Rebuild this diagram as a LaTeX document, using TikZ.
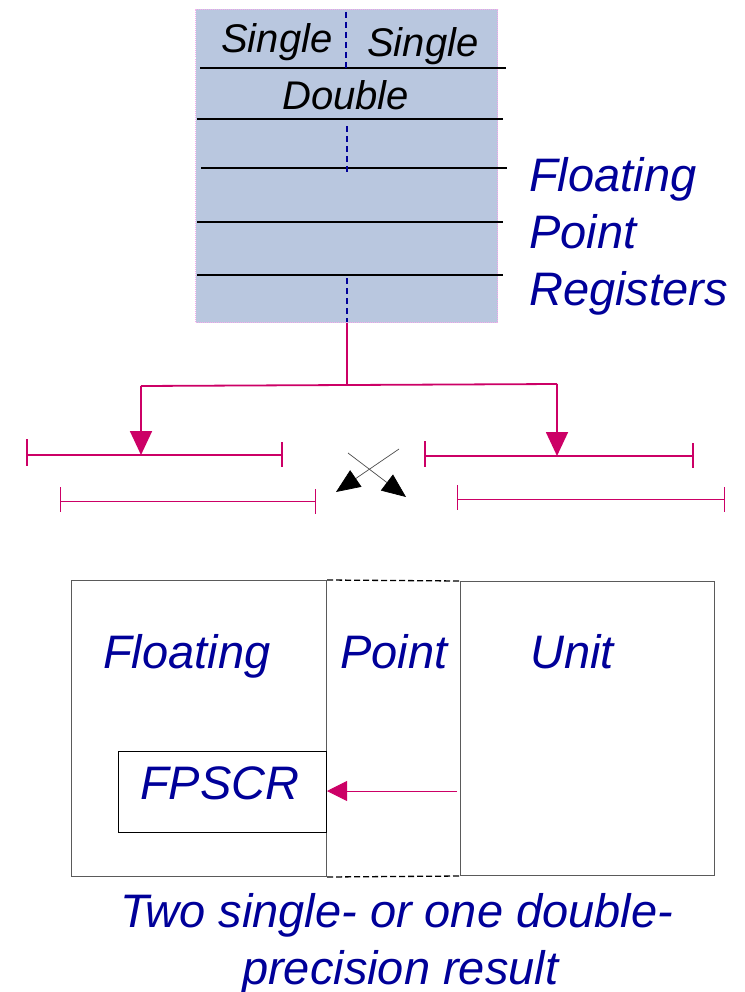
\documentclass[tikz,border=0pt]{standalone}
\usepackage{fontspec}
\setmainfont{Liberation Sans}
\usetikzlibrary{arrows.meta}
\definecolor{navy}{RGB}{0,0,153}
\definecolor{magenta}{RGB}{204,0,102}
\definecolor{regfill}{RGB}{185,199,223}
\definecolor{regedge}{RGB}{245,170,235}
\definecolor{boxedge}{RGB}{90,90,90}
\tikzset{
  bigtext/.style={font=\fontsize{47}{56}\selectfont\itshape, text=navy, inner sep=0pt, anchor=base west},
  regtext/.style={font=\fontsize{40}{48}\selectfont\itshape, text=black, inner sep=0pt, anchor=base west},
  regline/.style={line width=1.8pt, black},
  halfmark/.style={navy, line width=1.2pt, dash pattern=on 6pt off 4pt},
  feed/.style={magenta, line width=1.8pt},
  feedtip/.style={feed, -{Triangle[length=24pt, width=22pt]}},
  lane/.style={magenta, line width=2.6pt},
  lanethin/.style={magenta, line width=0.9pt},
  swap/.style={black!70, line width=0.7pt, -{Triangle[length=24pt, width=20pt, color=black, fill=black]}},
  unitbox/.style={draw=boxedge, line width=1pt},
}
\begin{document}
\begin{tikzpicture}[x=1pt, y=-1pt]
\useasboundingbox (0,0) rectangle (744,992);

% register file
\node[fill=regfill, draw=regedge, densely dotted, line width=1pt, minimum width=302pt, minimum height=313pt, inner sep=0pt, anchor=north west] (regs) at (195,9) {};
\draw[regline] (200,68) -- (506,68);
\draw[regline] (197,119) -- (503,119);
\draw[regline] (201,168) -- (507,168);
\draw[regline] (197,222) -- (503,222);
\draw[regline] (197,275) -- (503,275);
\draw[halfmark] (346,12) -- (346,68);
\draw[halfmark] (347,126) -- (347,172);
\draw[halfmark] (347,278) -- (347,322);
\node[regtext] (s1) at (221,53) {Single};
\node[regtext] (s2) at (367,57) {Single};
\node[regtext] (dbl) at (282,110) {Double};

\node[bigtext] (fl) at (529,192) {Floating};
\node[bigtext] (pt) at (529,248) {Point};
\node[bigtext] (rg) at (529,305) {Registers};

% operand fan-out
\coordinate (split) at (347,385);
\coordinate (lsplit) at (141,386);
\coordinate (rsplit) at (557,384);
\coordinate (ltip) at (141,455);
\coordinate (rtip) at (557,456);
\draw[feed] (regs.south -| split) -- (split);
\draw[feed] (lsplit) -- (rsplit);
\draw[feedtip] (lsplit) -- (ltip);
\draw[feedtip] (rsplit) -- (rtip);

% operand lanes
\coordinate (la) at (27,455); \coordinate (lb) at (282,455);
\coordinate (ra) at (425,456); \coordinate (rb) at (693,456);
\draw[lane] (la) -- (lb);
\draw[lane] (27,439) -- (27,466);
\draw[lane] (282,442) -- (282,467);
\draw[lane] (ra) -- (rb);
\draw[lane] (425,441) -- (425,467);
\draw[lane] (693,443) -- (693,468);

\coordinate (lc) at (60,501); \coordinate (ld) at (315,501);
\coordinate (rc) at (457,499); \coordinate (rd) at (724,499);
\draw[lanethin] (lc) -- (ld);
\draw[lanethin] (60,487) -- (60,512);
\draw[lanethin] (315,489) -- (315,514);
\draw[lanethin] (rc) -- (rd);
\draw[lanethin] (457,485) -- (457,510);
\draw[lanethin] (724,487) -- (724,512);

% crossing swap arrows
\coordinate (x1s) at (348,453); \coordinate (x1e) at (406,497);
\coordinate (x2s) at (399,449); \coordinate (x2e) at (336,492);
\draw[swap] (x1s) -- (x1e);
\draw[swap] (x2s) -- (x2e);

% floating point unit
\node[unitbox, minimum width=255pt, minimum height=296pt, inner sep=0pt, anchor=north west] (left) at (71,580) {};
\node[unitbox, minimum width=254pt, minimum height=294pt, inner sep=0pt, anchor=north west] (right) at (460,581) {};
\draw[black, line width=1.3pt, dash pattern=on 6pt off 3pt] (left.north east) -- (right.north west);
\draw[black, line width=1.3pt, dash pattern=on 6pt off 3pt] (left.south east) -- (right.south west);
\node[draw=black, line width=1pt, minimum width=208pt, minimum height=81pt, inner sep=0pt, anchor=north west] (fpscr) at (118,751) {};

\node[bigtext] (tf) at (103,668) {Floating};
\node[bigtext] (tp) at (340,668) {Point};
\node[bigtext] (tu) at (530,668) {Unit};
\node[bigtext] (tc) at (140,799) {FPSCR};

\coordinate (src) at (457,791);
\draw[magenta, line width=0.9pt, -{Triangle[length=20pt, width=20pt]}] (src) -- (fpscr.east |- src);

% caption
\node[bigtext] (cap1) at (120,927) {Two single- or one double-};
\node[bigtext] (cap2) at (242,984) {precision result};
\end{tikzpicture}
\end{document}
